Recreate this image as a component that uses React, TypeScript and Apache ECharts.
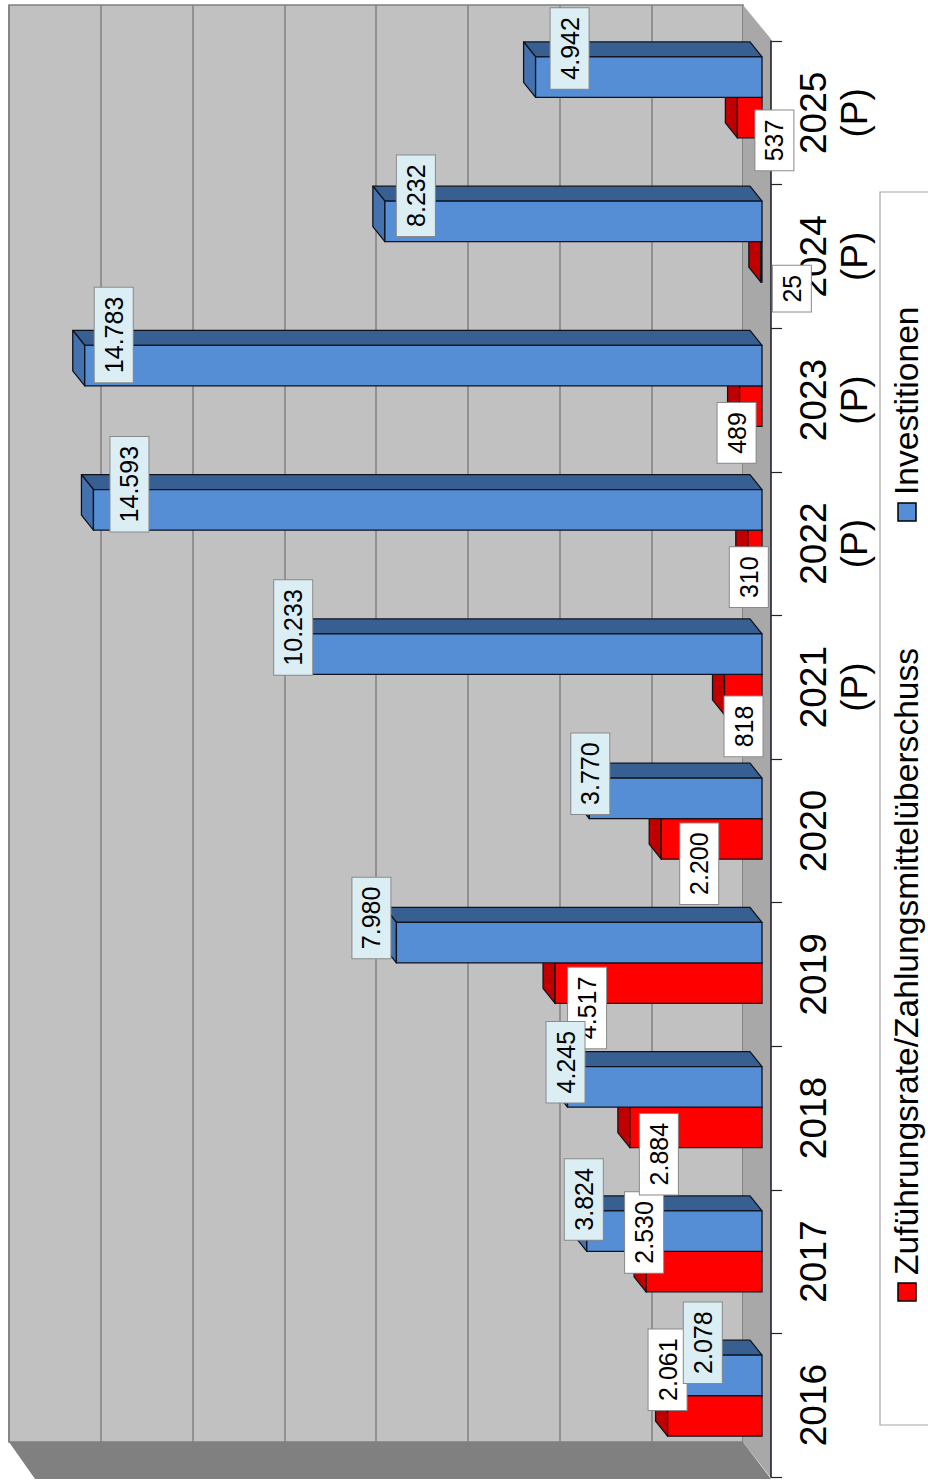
import React, { useEffect, useRef } from "react";
import * as echarts from "echarts";

const categories = ["2016", "2017", "2018", "2019", "2020", "2021\n(P)", "2022\n(P)", "2023\n(P)", "2024\n(P)", "2025\n(P)"];
const surplusName = "Zuführungsrate/Zahlungsmittelüberschuss";
const investName = "Investitionen";
const surplus = [2061, 2530, 2884, 4517, 2200, 818, 310, 489, 25, 537];
const invest = [2078, 3824, 4245, 7980, 3770, 10233, 14593, 14783, 8232, 4942];
// label placement relative to the bar end and the category centre
const surplusNudge = [[0, -26], [-2, -19], [29, 47], [32, 45], [38, 45], [19, 52], [1, 47], [-3, 47], [31, 47], [37, 43]];
const investNudge = [[36, -53], [-3, -52], [-2, -45], [-25, -45], [1, -45], [0, -47], [36, -46], [29, -51], [31, -46], [34, -49]];

const FONT = '"Liberation Sans", Arial, sans-serif';
const fmt = (v: number) => String(v).replace(/\B(?=(\d{3})+$)/g, ".");

const barRender = (side: "up" | "down", front: string, top: string, cap: string) => (_p: any, api: any) => {
  const v = api.value(0);
  const idx = api.value(1);
  const end = api.coord([v, idx]);
  const base = api.coord([0, idx]);
  const h = api.size([0, 1])[1] * 0.281;
  const y0 = side === "up" ? end[1] - h : end[1];
  const y1 = y0 + h;
  const dx = -12;
  const dy = -15;
  const x0 = end[0];
  const x1 = base[0];
  const stroke = { stroke: "#10131c", lineWidth: 1.3, lineJoin: "round" };
  return {
    type: "group",
    children: [
      { type: "polygon", shape: { points: [[x0, y0], [x1, y0], [x1 + dx, y0 + dy], [x0 + dx, y0 + dy]] }, style: { fill: top, ...stroke } },
      { type: "polygon", shape: { points: [[x0, y0], [x0 + dx, y0 + dy], [x0 + dx, y1 + dy], [x0, y1]] }, style: { fill: cap, ...stroke } },
      { type: "rect", shape: { x: x0, y: y0, width: x1 - x0, height: h }, style: { fill: front, ...stroke } },
    ],
  };
};

const labelRender = (bg: string) => (_p: any, api: any) => {
  const v = api.value(0);
  const idx = api.value(1);
  const p = api.coord([v, idx]);
  return {
    type: "text",
    x: p[0] + api.value(2),
    y: p[1] + api.value(3),
    rotation: Math.PI / 2,
    style: {
      text: fmt(v),
      fill: "#000",
      fontSize: 25,
      fontFamily: FONT,
      align: "center",
      verticalAlign: "middle",
      lineHeight: 28,
      backgroundColor: bg,
      borderColor: "#8a8a8a",
      borderWidth: 1,
      padding: [5, 9, 5, 9],
    },
  };
};

export default function App() {
  const ref = useRef<HTMLDivElement>(null);
  useEffect(() => {
    document.body.style.margin = "0";
    const chart = echarts.init(ref.current!, null, { renderer: "svg" });
    const legendText = (text: string, y: number) => ({
      type: "text",
      x: 906,
      y,
      rotation: Math.PI / 2,
      z: 5,
      style: { text, fill: "#000", fontSize: 33.6, fontFamily: FONT, align: "left", verticalAlign: "middle" },
    });
    const legendSwatch = (y: number, fill: string) => ({
      type: "rect",
      z: 5,
      shape: { x: 898, y, width: 18, height: 18 },
      style: { fill, stroke: "#000", lineWidth: 1.5 },
    });
    chart.setOption({
      animation: false,
      backgroundColor: "#fff",
      textStyle: { fontFamily: FONT },
      grid: [
        { left: 9, top: 5, width: 734, height: 1437, show: true, backgroundColor: "#c1c1c1", borderColor: "#808080", borderWidth: 1.5 },
        { left: 29, top: 25.3, width: 733, height: 1442.5 },
        { left: 29, top: 41, width: 742, height: 1436 },
      ],
      xAxis: [
        { type: "value", gridIndex: 0, inverse: true, min: 0, max: 16000, interval: 2000, axisLabel: { show: false }, axisLine: { show: false }, axisTick: { show: false }, splitLine: { show: true, lineStyle: { color: "#808080", width: 1.5 } } },
        { type: "value", gridIndex: 1, inverse: true, min: 0, max: 16000, show: false },
        { type: "value", gridIndex: 2, inverse: true, min: 0, max: 16000, show: false },
      ],
      yAxis: [
        { type: "category", gridIndex: 0, data: categories, show: false },
        { type: "category", gridIndex: 1, data: categories, show: false },
        {
          type: "category",
          gridIndex: 2,
          data: categories,
          position: "right",
          z: 2,
          axisLine: { show: true, lineStyle: { color: "#20242c", width: 1.6 } },
          axisTick: { show: true, length: 11, lineStyle: { color: "#20242c", width: 1.2 } },
          splitLine: { show: false },
          axisLabel: { show: true, interval: 0, rotate: 90, margin: 22, fontSize: 37, lineHeight: 41, color: "#000", fontFamily: FONT },
        },
      ],
      graphic: [
        { type: "polygon", z: 1, shape: { points: [[743, 5], [771, 39], [771, 1478], [743, 1442]] }, style: { fill: "#a8a8a8" } },
        { type: "polygon", z: 1, shape: { points: [[9, 1442], [743, 1442], [771, 1479], [35, 1479]] }, style: { fill: "#808080" } },
        { type: "rect", z: 1, shape: { x: 880, y: 192, width: 80, height: 1233 }, style: { fill: "#fff", stroke: "#a6a6a6", lineWidth: 1.2 } },
        legendSwatch(1283, "#ff0000"),
        legendText(surplusName, 1275),
        legendSwatch(503, "#558ed5"),
        legendText(investName, 495),
      ],
      series: [
        { type: "custom", name: surplusName, xAxisIndex: 1, yAxisIndex: 1, z: 3, renderItem: barRender("down", "#ff0000", "#c00000", "#c00000"), data: surplus.map((v, i) => [v, i]) },
        { type: "custom", name: investName, xAxisIndex: 1, yAxisIndex: 1, z: 4, renderItem: barRender("up", "#558ed5", "#375f92", "#4472ae"), data: invest.map((v, i) => [v, i]) },
        { type: "custom", name: surplusName + " labels", xAxisIndex: 1, yAxisIndex: 1, z: 10, renderItem: labelRender("#ffffff"), data: surplus.map((v, i) => [v, i, surplusNudge[i][0], surplusNudge[i][1]]) },
        { type: "custom", name: investName + " labels", xAxisIndex: 1, yAxisIndex: 1, z: 11, renderItem: labelRender("#dbeef4"), data: invest.map((v, i) => [v, i, investNudge[i][0], investNudge[i][1]]) },
      ],
    });
    return () => chart.dispose();
  }, []);
  return <div ref={ref} style={{ position: "fixed", left: 0, top: 0, width: 928, height: 1482 }} />;
}
